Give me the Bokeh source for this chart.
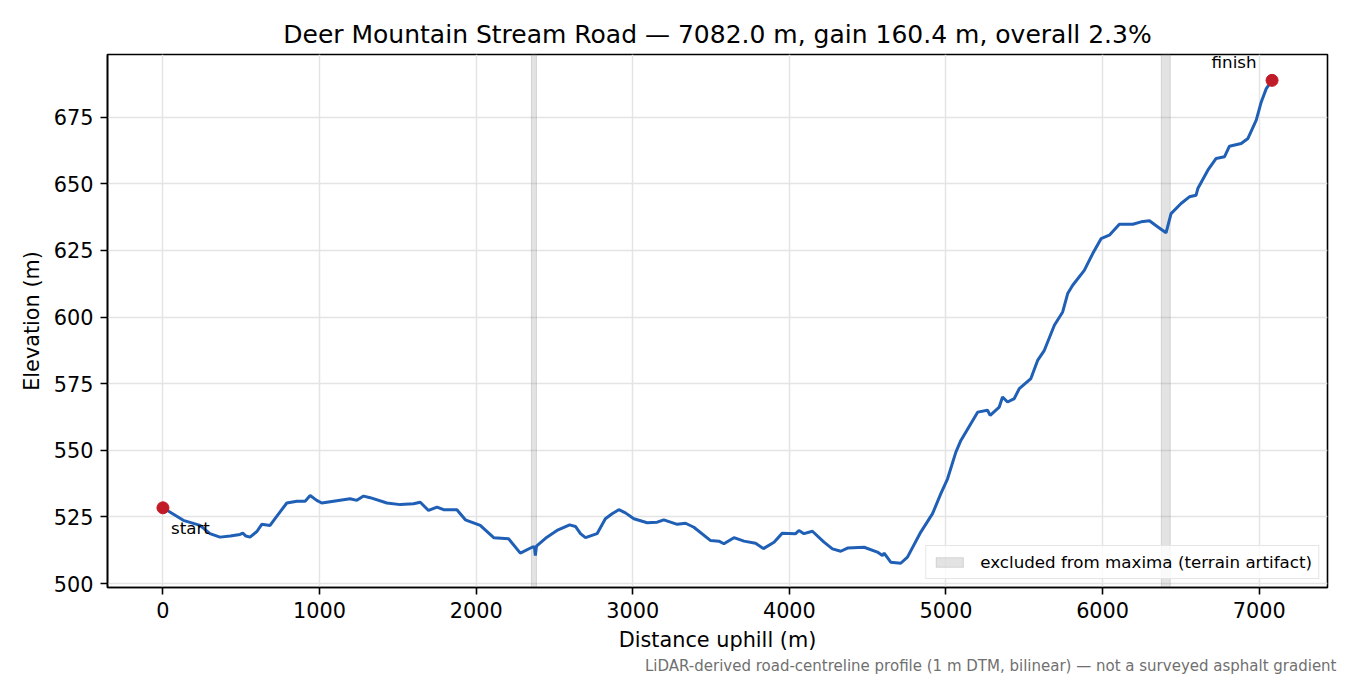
from bokeh.plotting import figure
from bokeh.models import Range1d, SingleIntervalTicker, Label, Title
from bokeh.embed import file_html
from bokeh.resources import INLINE

# distance along road (m) and elevation (m)
dist = [0, 130, 237, 300, 364, 430, 492, 510, 530, 556, 600, 631, 684, 730,
        791, 855, 908, 940, 982, 1014, 1089, 1195, 1238, 1281, 1323, 1430,
        1515, 1600, 1643, 1696, 1750, 1792, 1877, 1931, 2026, 2112, 2207,
        2282, 2357, 2372, 2378, 2385, 2452, 2516, 2597, 2634, 2666, 2698,
        2772, 2825, 2868, 2911, 2953, 3007, 3092, 3156, 3198, 3284, 3337,
        3390, 3497, 3550, 3582, 3646, 3710, 3784, 3834, 3902, 3955, 4040,
        4061, 4093, 4147, 4221, 4275, 4328, 4371, 4477, 4562, 4594, 4605,
        4647, 4711, 4754, 4839, 4914, 4967, 5010, 5063, 5095, 5202, 5265,
        5282, 5340, 5361, 5393, 5436, 5468, 5542, 5585, 5628, 5692, 5745,
        5777, 5809, 5883, 5937, 5990, 6043, 6107, 6193, 6246, 6299, 6353,
        6405, 6437, 6501, 6554, 6597, 6608, 6672, 6725, 6778, 6810, 6885,
        6928, 6981, 7013, 7045, 7082]
elev = [528.4, 523.7, 521.8, 518.7, 517.4, 517.8, 518.4, 518.9, 517.8, 517.4,
        519.5, 522.2, 521.8, 525.5, 530.2, 530.9, 530.9, 533.0, 531.2, 530.2,
        530.9, 531.8, 531.2, 532.8, 532.2, 530.2, 529.6, 529.9, 530.5, 527.4,
        528.7, 527.7, 527.7, 523.9, 521.8, 517.2, 516.8, 511.4, 513.6, 513.8,
        510.5, 514.0, 517.4, 519.9, 522.0, 521.4, 518.7, 517.2, 518.7, 524.3,
        526.2, 527.7, 526.5, 524.3, 522.8, 523.0, 523.9, 522.2, 522.6, 521.1,
        516.1, 515.9, 514.9, 517.2, 515.9, 515.1, 513.1, 515.5, 518.9, 518.7,
        519.9, 518.7, 519.6, 515.5, 513.0, 512.1, 513.3, 513.6, 511.8, 510.5,
        511.4, 508.0, 507.6, 509.9, 519.3, 526.2, 533.7, 539.3, 549.3, 553.7,
        564.3, 565.0, 563.1, 566.2, 570.0, 568.1, 569.4, 573.1, 576.9, 583.7,
        587.5, 596.9, 601.9, 608.8, 611.9, 617.5, 623.8, 629.4, 630.7, 634.8,
        634.8, 635.7, 636.1, 633.8, 631.6, 638.8, 642.6, 645.1, 645.7, 648.2,
        655.1, 659.5, 660.1, 664.1, 665.1, 667.0, 673.9, 680.7, 685.7, 688.8]

# stretches excluded from maxima (terrain artifacts)
excl_start = [2353, 6375]
excl_end = [2385, 6432]

x_lo, x_hi = -354, 7436
y_lo, y_hi = 498.5, 698.5

length = dist[-1]
gain = elev[-1] - elev[0]
grade = 100 * gain / length
title = f"Deer Mountain Stream Road \u2014 {length:.1f} m, gain {gain:.1f} m, overall {grade:.1f}%"
note = "LiDAR-derived road-centreline profile (1 m DTM, bilinear) \u2014 not a surveyed asphalt gradient"

FONT = "DejaVu Sans"

p = figure(width=1342, height=675, output_backend="svg", toolbar_location=None,
           x_range=Range1d(x_lo, x_hi), y_range=Range1d(y_lo, y_hi),
           min_border_left=107, min_border_right=15, min_border_top=54,
           min_border_bottom=88)

p.title.text = title
p.title.align = "center"
p.title.text_font = FONT
p.title.text_font_size = "25px"
p.title.text_font_style = "normal"
p.title.text_color = "black"
p.title.standoff = 12

p.quad(left=excl_start, right=excl_end, bottom=y_lo, top=y_hi,
       fill_color="grey", fill_alpha=0.22, line_color="grey", line_alpha=0.25,
       legend_label="excluded from maxima (terrain artifact)")

p.line(dist, elev, line_color="#1f5fb5", line_width=3)
p.scatter([dist[0], dist[-1]], [elev[0], elev[-1]], size=12,
          fill_color="#c21b28", line_color="#c21b28")

p.add_layout(Label(x=dist[0], y=elev[0], text="start", x_offset=8, y_offset=-20,
                   text_baseline="middle", text_font=FONT, text_font_size="16.7px",
                   text_color="black"))
p.add_layout(Label(x=dist[-1], y=elev[-1], text="finish", x_offset=-38, y_offset=18,
                   text_align="center", text_baseline="middle", text_font=FONT,
                   text_font_size="16.7px", text_color="black"))

p.xaxis.ticker = SingleIntervalTicker(interval=1000, num_minor_ticks=0)
p.yaxis.ticker = SingleIntervalTicker(interval=25, num_minor_ticks=0)
p.xaxis.axis_label = "Distance uphill (m)"
p.yaxis.axis_label = "Elevation (m)"
for ax in (p.xaxis, p.yaxis):
    ax.axis_label_text_font = FONT
    ax.axis_label_text_font_size = "20.8px"
    ax.axis_label_text_font_style = "normal"
    ax.axis_label_text_color = "black"
    ax.major_label_text_font = FONT
    ax.major_label_text_font_size = "20.8px"
    ax.major_label_text_color = "black"
    ax.major_label_standoff = 7
    ax.axis_line_color = "black"
    ax.axis_line_width = 1.6
    ax.major_tick_line_color = "black"
    ax.major_tick_line_width = 1.6
    ax.major_tick_in = 0
    ax.major_tick_out = 7
    ax.minor_tick_line_color = None
p.xaxis.axis_label_standoff = 7
p.yaxis.axis_label_standoff = 7

p.outline_line_color = "black"
p.outline_line_width = 1.6
p.grid.grid_line_color = "#e4e4e4"
p.grid.grid_line_width = 1.5

p.legend.location = "bottom_right"
p.legend.margin = 8
p.legend.padding = 6
p.legend.label_text_font = FONT
p.legend.label_text_font_size = "16.7px"
p.legend.label_text_color = "black"
p.legend.glyph_width = 34
p.legend.glyph_height = 12
p.legend.label_standoff = 14
p.legend.border_line_color = "#cccccc"
p.legend.border_line_width = 1.5
p.legend.background_fill_alpha = 0.8

p.add_layout(Title(text=note, align="right", offset=-9, standoff=0,
                   text_font=FONT, text_font_size="15px", text_font_style="normal",
                   text_color="#707070"), "below")

open("out.html", "w").write(file_html(p, INLINE))
